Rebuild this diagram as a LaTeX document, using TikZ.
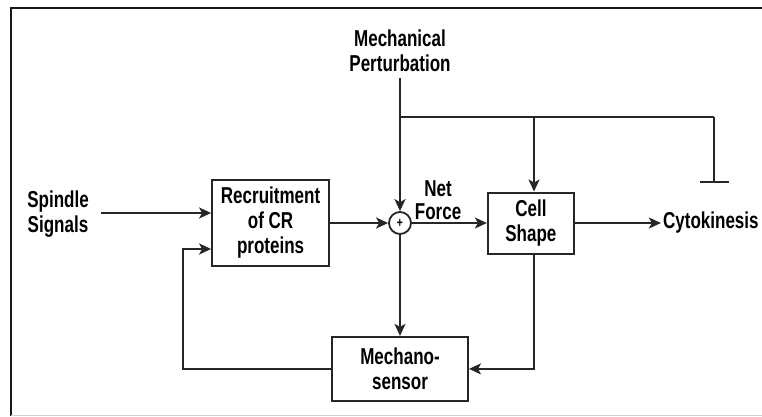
\documentclass[tikz,border=0pt]{standalone}
\usepackage{fontspec}
\setmainfont[FakeStretch=0.74]{Liberation Sans}
\usepackage{tikz}
\usetikzlibrary{arrows.meta, positioning, calc}

\begin{document}
\begin{tikzpicture}[
  x = 1pt, y = -1pt,
  font = \bfseries\fontsize{23}{25}\selectfont,
  box/.style   = {rectangle, draw=black!85, line width=2pt,
                  align=center, inner sep=2pt},
  lbl/.style   = {align=center, inner sep=2pt},
  sumnode/.style = {circle, draw=black!85, line width=1.8pt,
                    minimum size=22pt, inner sep=0pt,
                    font=\bfseries\fontsize{14}{14}\selectfont},
  arr/.style   = {-{Stealth[length=12pt, width=11pt, inset=3pt]},
                  line width=2pt, draw=black!85},
  inh/.style   = {-{Bar[width=29pt]}, line width=2pt, draw=black!85},
  ln/.style    = {line width=2pt, draw=black!85},
]
\useasboundingbox (0,0) rectangle (762,416);

%% ── Frame ────────────────────────────────────────────────────────────────
\draw[line width=2.4pt, black!90] (11,416) -- (11,8) -- (762,8);
\draw[line width=1pt, gray!35] (11,415) -- (762,415);

%% ── Nodes ────────────────────────────────────────────────────────────────
\node[sumnode]                                   (sum)   at (400,223) {+};
\node[box, minimum width=117pt, minimum height=86pt,
      left=58pt of sum]                          (rec)   {Recruitment\\of CR\\proteins};
\node[box, minimum width=86pt, minimum height=61pt,
      right=75pt of sum]                         (cell)  {Cell\\Shape};
\node[box, minimum width=136pt, minimum height=64pt,
      below=101pt of sum]                        (mech)  {Mechano-\\sensor};
\node[lbl, right=86pt of cell]                   (cyto)  {Cytokinesis};
\node[lbl]                                       (spin)  at (58,214) {Spindle\\Signals};
\node[lbl]                                       (pert)  at (400,51) {Mechanical\\Perturbation};

\coordinate (split) at (400,117);
\coordinate (stop)  at (714,183);

%% ── Main flow arrows ─────────────────────────────────────────────────────
\draw[arr] ([xshift=10pt]spin.east |- 0,213) -- (rec.west |- 0,213);
\draw[arr] (rec)  -- (sum);
\draw[arr] (sum)  -- node[lbl, pos=0, above right, font=\bfseries\fontsize{23}{23}\selectfont]{Net\\Force} (cell);
\draw[arr] (cell) -- (cyto);
\draw[arr] ([yshift=-4pt]pert.south) -- (sum);
\draw[arr] (sum)  -- (mech);

%% ── Perturbation branches ────────────────────────────────────────────────
\draw[ln]  (split) -- (split -| stop);
\draw[arr] (split -| 534,0) -- (cell.north -| 534,0);
\draw[inh] (split -| stop) -- (stop);

%% ── Feedback loops ───────────────────────────────────────────────────────
\draw[arr] (cell.south -| 534,0) |- (mech);
\draw[arr] (mech.west) -- ++(-148,0) |- ([yshift=-26pt]rec.west);

\end{tikzpicture}
\end{document}
